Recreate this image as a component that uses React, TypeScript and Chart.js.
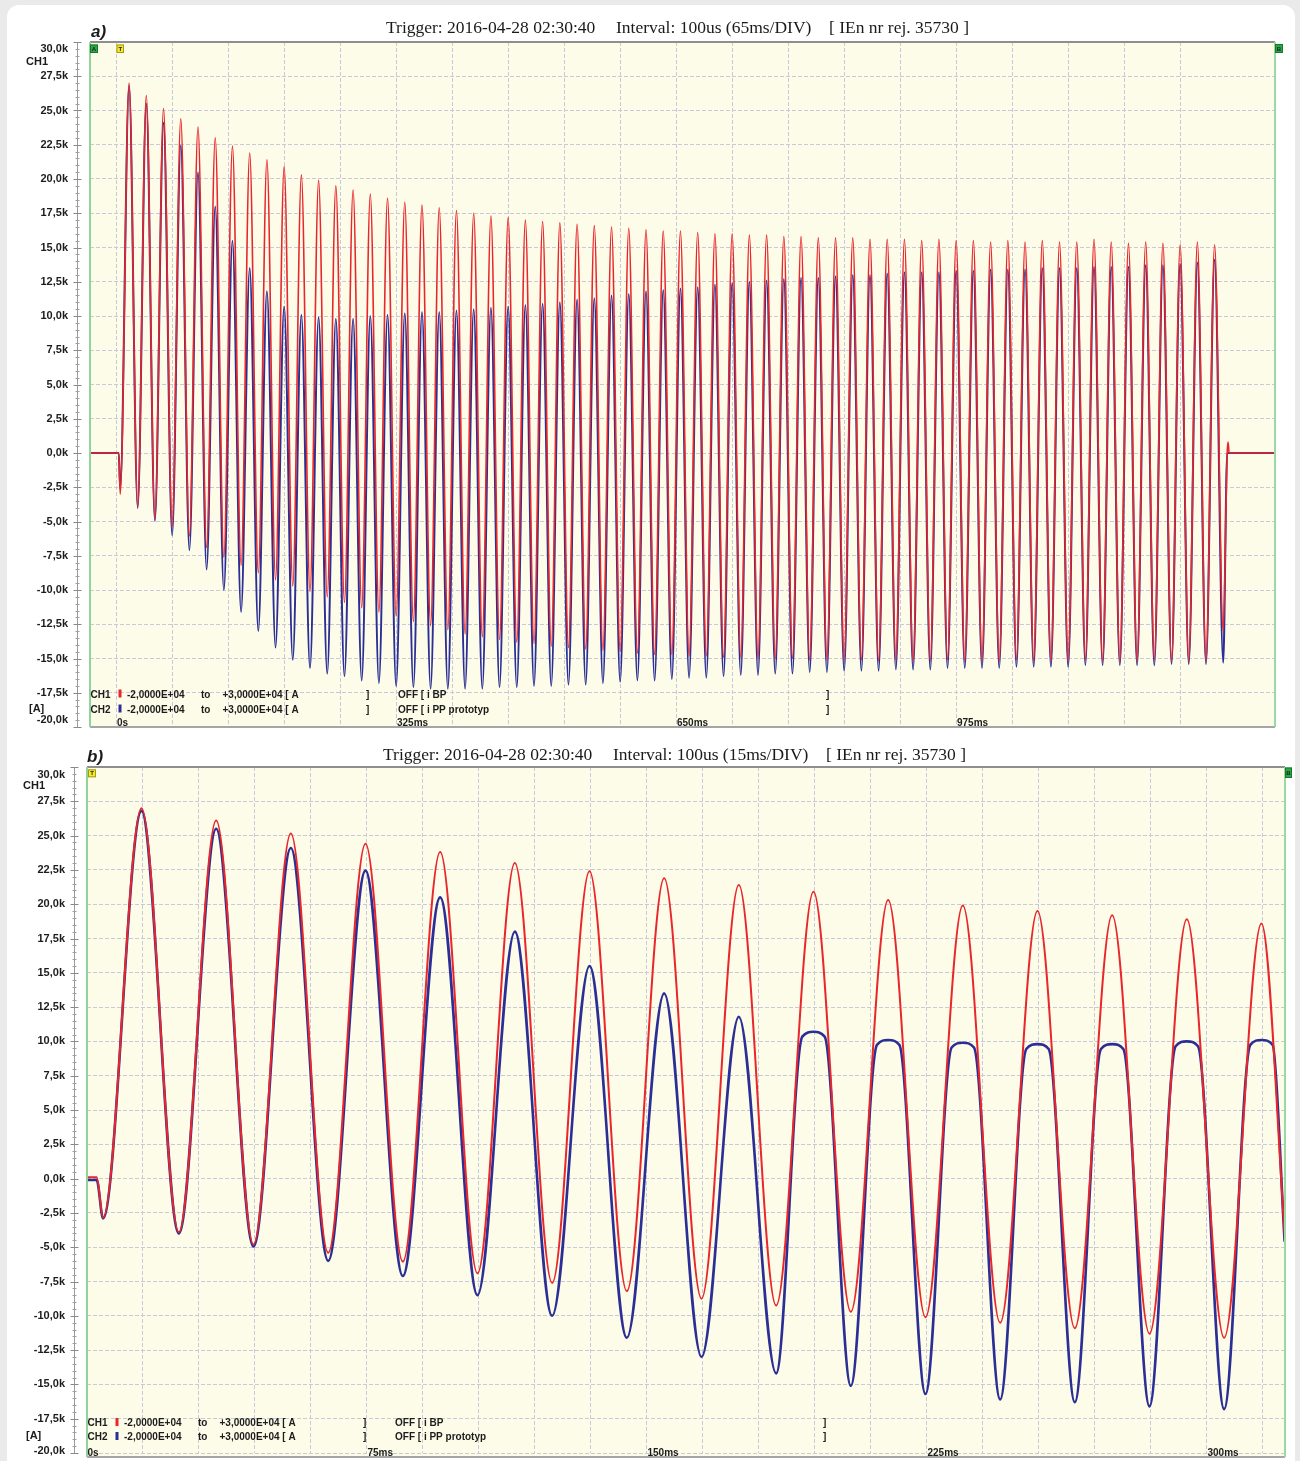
import React, { useEffect, useRef } from 'react';
import { Chart, registerables } from 'chart.js';
Chart.register(...registerables);

// ---------------- data (values in kA, times in ms) ----------------
const yTicks = [30, 27.5, 25, 22.5, 20, 17.5, 15, 12.5, 10, 7.5, 5, 2.5, 0, -2.5, -5, -7.5, -10, -12.5, -15, -17.5, -20];
const yTickLabels = ['30,0k', '27,5k', '25,0k', '22,5k', '20,0k', '17,5k', '15,0k', '12,5k', '10,0k', '7,5k', '5,0k', '2,5k', '0,0k', '-2,5k', '-5,0k', '-7,5k', '-10,0k', '-12,5k', '-15,0k', '-17,5k', '-20,0k'];

const aGridMs = [0, 65, 130, 195, 260, 325, 390, 455, 520, 585, 650, 715, 780, 845, 910, 975, 1040, 1105, 1170, 1235];
const aLabelMs = [0, 325, 650, 975];
const aLabels = ['0s', '325ms', '650ms', '975ms'];
const bGridMs = [0, 15, 30, 45, 60, 75, 90, 105, 120, 135, 150, 165, 180, 195, 210, 225, 240, 255, 270, 285, 300, 315];
const bLabelMs = [0, 75, 150, 225, 300];
const bLabels = ['0s', '75ms', '150ms', '225ms', '300ms'];

const titleA = ['Trigger: 2016-04-28 02:30:40', 'Interval: 100us (65ms/DIV)', '[ IEn nr rej. 35730 ]'];
const titleB = ['Trigger: 2016-04-28 02:30:40', 'Interval: 100us (15ms/DIV)', '[ IEn nr rej. 35730 ]'];
const legendCH1 = ['CH1', '-2,0000E+04', 'to', '+3,0000E+04 [ A', ']', 'OFF [ i BP', ']'];
const legendCH2 = ['CH2', '-2,0000E+04', 'to', '+3,0000E+04 [ A', ']', 'OFF [ i PP prototyp', ']'];

// Panel a: per-cycle extremes
const aLeadMs = [-30.8, 2.6, 4.3];
const aRedLead = [0, 0, -3.0];
const aBlueLead = [0, 0, -2.6];
const aPeakMs = [14.6, 34.6, 54.6, 74.6, 94.6, 114.6, 134.6, 154.6, 174.6, 194.6, 214.6, 234.6, 254.6, 274.6, 294.6, 314.6,
  334.6, 354.6, 374.6, 394.6, 414.6, 434.6, 454.6, 474.6, 494.6, 514.6, 534.6, 554.6, 574.6, 594.6, 614.6, 634.6,
  654.6, 674.6, 694.6, 714.6, 734.6, 754.6, 774.6, 794.6, 814.6, 834.6, 854.6, 874.6, 894.6, 914.6, 934.6, 954.6,
  974.6, 994.6, 1014.6, 1034.6, 1054.6, 1074.6, 1094.6, 1114.6, 1134.6, 1154.6, 1174.6, 1194.6, 1214.6, 1234.6, 1254.6, 1274.6];
const aTroughMs = [24.6, 44.6, 64.6, 84.6, 104.6, 124.6, 144.6, 164.6, 184.6, 204.6, 224.6, 244.6, 264.6, 284.6, 304.6, 324.6,
  344.6, 364.6, 384.6, 404.6, 424.6, 444.6, 464.6, 484.6, 504.6, 524.6, 544.6, 564.6, 584.6, 604.6, 624.6, 644.6,
  664.6, 684.6, 704.6, 724.6, 744.6, 764.6, 784.6, 804.6, 824.6, 844.6, 864.6, 884.6, 904.6, 924.6, 944.6, 964.6,
  984.6, 1004.6, 1024.6, 1044.6, 1064.6, 1084.6, 1104.6, 1124.6, 1144.6, 1164.6, 1184.6, 1204.6, 1224.6, 1244.6, 1264.6, 1284.6];
const aRedPeak = [27.0, 26.1, 25.15, 24.4, 23.8, 23.0, 22.4, 21.9, 21.4, 20.9, 20.3, 19.9, 19.5, 19.2, 18.9, 18.6,
  18.3, 18.1, 17.9, 17.7, 17.5, 17.3, 17.2, 17.0, 16.9, 16.8, 16.7, 16.6, 16.5, 16.4, 16.3, 16.2,
  16.2, 16.1, 16.0, 16.0, 15.9, 15.9, 15.8, 15.8, 15.7, 15.7, 15.7, 15.6, 15.6, 15.6, 15.5, 15.6,
  15.5, 15.5, 15.4, 15.5, 15.4, 15.5, 15.4, 15.4, 15.6, 15.4, 15.3, 15.4, 15.3, 15.2, 15.4, 15.2];
const aRedTrough = [-3.9, -4.8, -5.4, -6.05, -6.9, -7.6, -8.2, -8.75, -9.25, -9.7, -10.1, -10.5, -10.9, -11.3, -11.6,
  -11.9, -12.3, -12.6, -12.9, -13.2, -13.4, -13.6, -13.8, -13.9, -14.1, -14.2, -14.3, -14.4, -14.5, -14.6, -14.7,
  -14.7, -14.8, -14.8, -14.9, -14.9, -15.0, -15.0, -15.0, -15.1, -15.1, -15.1, -15.1, -15.2, -15.1, -15.2, -15.2,
  -15.1, -15.2, -15.2, -15.2, -15.1, -15.2, -15.2, -15.2, -15.1, -15.2, -15.2, -15.2, -15.1, -15.2, -15.2, -15.2, -13.0];
const aBluePeak = [26.8, 25.5, 24.1, 22.45, 20.5, 18.0, 15.5, 13.5, 11.8, 10.7, 10.1, 9.9, 9.8, 9.8, 10.0, 10.1,
  10.2, 10.3, 10.3, 10.4, 10.5, 10.6, 10.7, 10.8, 10.9, 11.0, 11.2, 11.3, 11.5, 11.6, 11.8, 11.9,
  12.0, 12.1, 12.3, 12.4, 12.5, 12.6, 12.7, 12.8, 12.8, 12.9, 13.0, 13.0, 13.1, 13.2, 13.2, 13.2,
  13.3, 13.3, 13.4, 13.4, 13.4, 13.5, 13.5, 13.5, 13.6, 13.6, 13.6, 13.7, 13.7, 13.8, 13.9, 14.1];
const aBlueTrough = [-4.0, -4.95, -6.0, -7.1, -8.5, -10.0, -11.6, -13.0, -14.2, -15.1, -15.7, -16.1, -16.3, -16.6, -16.8,
  -17.0, -17.1, -17.2, -17.2, -17.2, -17.2, -17.1, -17.1, -17.0, -17.0, -16.9, -16.9, -16.8, -16.7, -16.6, -16.6,
  -16.5, -16.4, -16.4, -16.3, -16.2, -16.2, -16.1, -16.1, -16.0, -16.0, -15.9, -15.9, -15.9, -15.8, -15.8, -15.8,
  -15.7, -15.7, -15.7, -15.7, -15.6, -15.6, -15.6, -15.6, -15.5, -15.5, -15.5, -15.5, -15.5, -15.4, -15.4, -15.4, -15.3];
const aTailMs = [1289.2, 1290.2, 1291.5, 1344.7];
const aRedTail = [0, 0.8, 0, 0];
const aBlueTail = [0, 0, 0, 0];

// Panel b: read point by point
const bRedMs = [0, 2.6, 4.3, 14.6, 24.6, 34.6, 44.6, 54.6, 64.6, 74.6, 84.6, 94.6, 104.6, 114.6, 124.6, 134.6, 144.6,
  154.6, 164.6, 174.6, 184.6, 194.6, 204.6, 214.6, 224.6, 234.6, 244.6, 254.6, 264.6, 274.6, 284.6, 294.6, 304.6, 314.6, 321];
const bRedVal = [0.1, 0.1, -2.85, 27.0, -3.9, 26.1, -4.8, 25.15, -5.4, 24.4, -6.05, 23.8, -6.9, 23.0, -7.6, 22.4, -8.2,
  21.9, -8.75, 21.4, -9.25, 20.9, -9.7, 20.3, -10.1, 19.9, -10.5, 19.5, -10.9, 19.2, -11.3, 18.9, -11.6, 18.6, -4.8];
const bBlueMs = [0, 2.6, 4.3, 14.6, 24.6, 34.6, 44.6, 54.6, 64.6, 74.6, 84.6, 94.6, 104.6, 114.6, 124.6, 134.6, 144.6,
  154.6, 164.6, 174.6, 184.6, 191.6, 194.6, 197.6, 204.6, 211.6, 214.6, 217.6, 224.6, 231.6, 234.6, 237.6, 244.6,
  251.6, 254.6, 257.6, 264.6, 271.6, 274.6, 277.6, 284.6, 291.6, 294.6, 297.6, 304.6, 311.6, 314.6, 317.6, 320.8];
const bBlueVal = [-0.1, -0.1, -2.9, 26.8, -4.0, 25.5, -4.95, 24.1, -6.0, 22.45, -7.1, 20.5, -8.5, 18.0, -10.0, 15.5, -11.6,
  13.5, -13.0, 11.8, -14.2, 10.35, 10.7, 10.35, -15.1, 9.75, 10.1, 9.75, -15.7, 9.55, 9.9, 9.55, -16.1,
  9.45, 9.8, 9.45, -16.3, 9.45, 9.8, 9.45, -16.6, 9.65, 10.0, 9.65, -16.8, 9.75, 10.1, 9.75, -4.6];

// ---------------- helpers ----------------
const RED = '#e8262b';
const BLUE = '#2b2e94';
const SANS = '"Liberation Sans", Arial, sans-serif';
const SERIF = '"Liberation Serif", "Times New Roman", serif';

function buildCycles(leadMs: number[], leadV: number[], peakMs: number[], peakV: number[], troughMs: number[], troughV: number[], tailMs: number[], tailV: number[]) {
  const pts: { x: number; y: number }[] = [];
  leadMs.forEach((t, i) => pts.push({ x: t, y: leadV[i] }));
  peakMs.forEach((t, i) => {
    pts.push({ x: t, y: peakV[i] });
    pts.push({ x: troughMs[i], y: troughV[i] });
  });
  tailMs.forEach((t, i) => pts.push({ x: t, y: tailV[i] }));
  return pts;
}
function zipPts(ms: number[], v: number[]) {
  return ms.map((t, i) => ({ x: t, y: v[i] }));
}

function hline(ctx: any, x1: number, y1: number, x2: number, y2: number, color: string, w: number) {
  ctx.strokeStyle = color;
  ctx.lineWidth = w;
  ctx.setLineDash([]);
  ctx.beginPath();
  ctx.moveTo(x1, y1);
  ctx.lineTo(x2, y2);
  ctx.stroke();
}
function flag(ctx: any, x: number, y: number, w: number, h: number, fill: string, edge: string, letter: string) {
  ctx.fillStyle = fill;
  ctx.fillRect(x, y, w, h);
  ctx.strokeStyle = edge;
  ctx.lineWidth = 1;
  ctx.strokeRect(x + 0.5, y + 0.5, w - 1, h - 1);
  ctx.fillStyle = '#222';
  ctx.font = 'bold 6px ' + SANS;
  ctx.textAlign = 'center';
  ctx.textBaseline = 'middle';
  ctx.fillText(letter, x + w / 2, y + h / 2 + 0.5);
}

type PanelOpts = {
  id: string;
  letter: string; letterX: number; letterBase: number;
  titles: string[]; titleX: number[]; titleBase: number;
  labelMs: number[]; labels: string[]; labelBase: number;
  legendBase: number[]; bottomExtra: number;
  topLabelShift: number; bottomLabelShift: number; ch1Shift: number; aShift: number;
  flags: (ctx: any, a: any, xs: any) => void;
};

function overlay(p: PanelOpts) {
  return {
    id: p.id,
    beforeDraw(chart: any) {
      const { ctx, chartArea: a } = chart;
      ctx.save();
      ctx.fillStyle = '#fcfce9';
      ctx.fillRect(a.left, a.top, a.right - a.left, a.bottom - a.top + p.bottomExtra);
      ctx.restore();
    },
    afterDraw(chart: any) {
      const { ctx, chartArea: a, scales } = chart;
      const xs = scales.x;
      const ys = scales.y;
      ctx.save();
      const bb = a.bottom + p.bottomExtra;
      // frame
      hline(ctx, a.left, a.top, a.right, a.top, '#8e8e8e', 2);
      hline(ctx, a.left, bb, a.right, bb, '#a5a5a5', 2);
      hline(ctx, a.left, a.top, a.left, bb, '#8fd49b', 2);
      hline(ctx, a.right, a.top, a.right, bb, '#9ad8a4', 2);

      // ruler
      const rx = Math.round(a.left - 13) + 0.5;
      hline(ctx, rx, a.top, rx, a.bottom, '#9a9a9a', 1);
      for (let i = 0; i < yTicks.length; i++) {
        const y = Math.round(ys.getPixelForValue(yTicks[i])) + 0.5;
        hline(ctx, rx - 4, y, rx + 4, y, '#8a8a8a', 1);
        if (i < yTicks.length - 1) {
          for (let s = 1; s < 5; s++) {
            const v = yTicks[i] + (yTicks[i + 1] - yTicks[i]) * s / 5;
            const ym = Math.round(ys.getPixelForValue(v)) + 0.5;
            hline(ctx, rx - 2, ym, rx + 2, ym, '#a0a0a0', 1);
          }
        }
      }

      // y labels
      ctx.fillStyle = '#1c1c1c';
      ctx.font = 'bold 11px ' + SANS;
      ctx.textAlign = 'right';
      ctx.textBaseline = 'middle';
      yTicks.forEach((v, i) => {
        let y = ys.getPixelForValue(v);
        if (i === 0) y += p.topLabelShift;
        if (i === yTicks.length - 1) y += p.bottomLabelShift;
        ctx.fillText(yTickLabels[i], a.left - 22, y);
      });
      ctx.fillText('CH1', a.left - 42, a.top + p.ch1Shift);
      ctx.textAlign = 'left';
      ctx.fillText('[A]', a.left - 61, a.bottom + p.aShift);

      // x labels inside plot
      ctx.font = 'bold 10px ' + SANS;
      ctx.textBaseline = 'alphabetic';
      p.labelMs.forEach((v, i) => {
        ctx.fillText(p.labels[i], xs.getPixelForValue(v) + 0.5, a.bottom + p.labelBase);
      });

      // legend
      const offs = [0.5, 37, 111, 132.5, 276, 308, 736];
      const rows = [legendCH1, legendCH2];
      const cols = [RED, BLUE];
      ctx.font = 'bold 10px ' + SANS;
      rows.forEach((row, r) => {
        const base = a.bottom + p.legendBase[r];
        ctx.fillStyle = '#1c1c1c';
        row.forEach((s, i) => ctx.fillText(s, a.left + offs[i], base));
        ctx.fillStyle = cols[r];
        ctx.fillRect(a.left + 28.5, base - 8, 3, 8);
      });

      // markers
      p.flags(ctx, a, xs);

      // title
      ctx.fillStyle = '#1a1a1a';
      ctx.textAlign = 'left';
      ctx.textBaseline = 'alphabetic';
      ctx.font = '17.5px ' + SERIF;
      p.titles.forEach((s, i) => ctx.fillText(s, p.titleX[i], p.titleBase));
      ctx.font = 'italic bold 17px ' + SANS;
      ctx.fillText(p.letter, p.letterX, p.letterBase);
      ctx.restore();
    },
  };
}

function makeConfig(datasets: any[], xMin: number, xMax: number, grid: number[], padding: any, p: PanelOpts) {
  const gridOpts = { color: '#c9c9da', lineWidth: 1, drawTicks: false };
  return {
    type: 'line',
    data: { datasets },
    options: {
      animation: false,
      responsive: false,
      devicePixelRatio: 1,
      events: [],
      layout: { padding },
      plugins: { legend: { display: false }, tooltip: { enabled: false } },
      elements: { point: { radius: 0 } },
      scales: {
        x: {
          type: 'linear', min: xMin, max: xMax,
          afterBuildTicks: (s: any) => { s.ticks = grid.map((v) => ({ value: v })); },
          ticks: { display: false },
          grid: gridOpts,
          border: { display: false, dash: [4, 2] },
        },
        y: {
          type: 'linear', min: -20, max: 30,
          afterBuildTicks: (s: any) => { s.ticks = yTicks.map((v) => ({ value: v })); },
          ticks: { display: false },
          grid: gridOpts,
          border: { display: false, dash: [4, 2] },
        },
      },
    },
    plugins: [overlay(p)],
  } as any;
}

function configA() {
  const red = buildCycles(aLeadMs, aRedLead, aPeakMs, aRedPeak, aTroughMs, aRedTrough, aTailMs, aRedTail);
  const blue = buildCycles(aLeadMs, aBlueLead, aPeakMs, aBluePeak, aTroughMs, aBlueTrough, aTailMs, aBlueTail);
  const p: PanelOpts = {
    id: 'ovA', letter: 'a)', letterX: 91, letterBase: 37,
    titles: titleA, titleX: [386, 616, 829], titleBase: 33,
    labelMs: aLabelMs, labels: aLabels, labelBase: -0.8,
    legendBase: [-29.5, -14.5], bottomExtra: 0,
    topLabelShift: 7, bottomLabelShift: -7, ch1Shift: 20, aShift: -18,
    flags: (ctx, a, xs) => {
      flag(ctx, a.left, a.top + 2.5, 8, 8.5, '#2aa845', '#167a2c', 'A');
      flag(ctx, xs.getPixelForValue(0), a.top + 2.5, 7.5, 8.5, '#f2ea30', '#a89a10', 'T');
      flag(ctx, a.right, a.top + 2, 8, 9, '#2aa845', '#167a2c', 'B');
    },
  };
  return makeConfig([
    { data: red, borderColor: RED, borderWidth: 1.6, cubicInterpolationMode: 'monotone', pointRadius: 0, fill: false },
    { data: blue, borderColor: BLUE, borderWidth: 2.0, cubicInterpolationMode: 'monotone', pointRadius: 0, fill: false },
  ], -30.76, 1344.7, aGridMs, { left: 90, top: 42, right: 25, bottom: 11 }, p);
}

function configB() {
  const p: PanelOpts = {
    id: 'ovB', letter: 'b)', letterX: 87, letterBase: 24,
    titles: titleB, titleX: [383, 613, 826], titleBase: 21.5,
    labelMs: bLabelMs, labels: bLabels, labelBase: 2.8,
    legendBase: [-27, -13], bottomExtra: 4,
    topLabelShift: 8, bottomLabelShift: -2.5, ch1Shift: 18.5, aShift: -17,
    flags: (ctx, a) => {
      flag(ctx, a.left + 1, a.top + 2.3, 8, 8, '#f2ea30', '#a89a10', 'T');
      flag(ctx, a.right, a.top + 0.5, 7, 10.5, '#2aa845', '#167a2c', 'B');
    },
  };
  return makeConfig([
    { data: zipPts(bRedMs, bRedVal), borderColor: RED, borderWidth: 2.0, cubicInterpolationMode: 'monotone', pointRadius: 0, fill: false },
    { data: zipPts(bBlueMs, bBlueVal), borderColor: BLUE, borderWidth: 2.6, cubicInterpolationMode: 'monotone', pointRadius: 0, fill: false },
  ], 0, 320.9, bGridMs, { left: 87, top: 29, right: 15, bottom: 8 }, p);
}

function Panel({ make, top, height }: { make: () => any; top: number; height: number }) {
  const ref = useRef<HTMLCanvasElement>(null);
  useEffect(() => {
    const chart = new Chart(ref.current as HTMLCanvasElement, make());
    return () => chart.destroy();
  }, []);
  return (
    <canvas
      ref={ref}
      width={1300}
      height={height}
      style={{ position: 'absolute', left: 0, top, width: 1300, height, display: 'block' }}
    />
  );
}

export default function App() {
  useEffect(() => {
    document.body.style.margin = '0';
    document.body.style.overflow = 'hidden';
  }, []);
  return (
    <div style={{ position: 'absolute', left: 0, top: 0, width: 1300, height: 1461, overflow: 'hidden', background: '#eaeaea' }}>
      <div style={{ position: 'absolute', left: 7, top: 5, width: 1288, height: 1500, borderRadius: 12, background: '#ffffff' }} />
      <Panel make={configA} top={0} height={738} />
      <Panel make={configB} top={738} height={723} />
    </div>
  );
}
